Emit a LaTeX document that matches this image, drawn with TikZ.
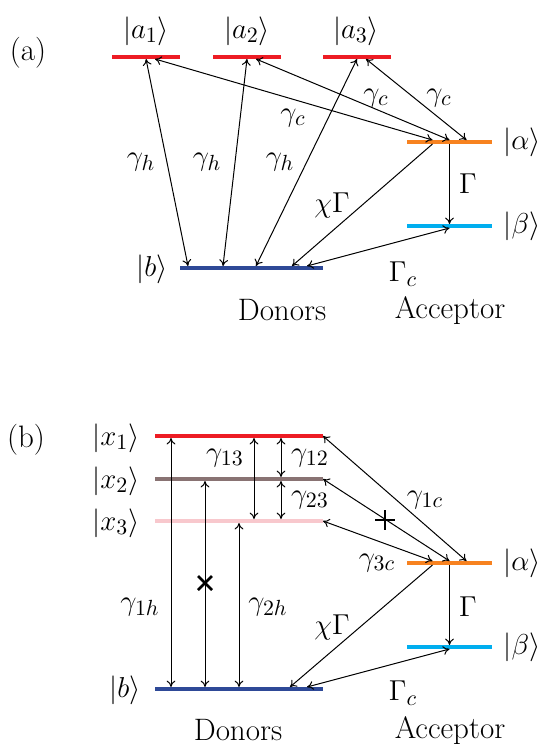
\documentclass[tikz,border=0pt]{standalone}
\usepackage{amsmath,amssymb}
\usetikzlibrary{arrows.meta,positioning,calc}
\definecolor{lvlred}{RGB}{237,28,36}
\definecolor{lvlbrown}{RGB}{137,115,115}
\definecolor{lvlpink}{RGB}{248,200,205}
\definecolor{lvlorange}{RGB}{247,130,32}
\definecolor{lvlcyan}{RGB}{0,174,239}
\definecolor{lvlblue}{RGB}{46,73,151}
\tikzset{
    lvlbar/.style={fill=#1, minimum height=2pt, inner sep=0pt, outer sep=0pt},
    trans/.style={line width=0.5pt, {To[length=3.2pt,width=4.4pt]}-{To[length=3.2pt,width=4.4pt]}},
    decay/.style={line width=0.5pt, -{To[length=3.2pt,width=4.4pt]}},
    lbl/.style={font=\fontsize{15.5}{18}\selectfont, inner sep=1pt},
    crossmark/.style={line width=1.3pt}
}

\begin{document}
\begin{tikzpicture}[x=0.5pt, y=-0.5pt]
    \useasboundingbox (0,0) rectangle (541,744);

    % ---------- (a) ----------
    \node[lbl] (taga) at (28,53) {(a)};
    \node[lvlbar=lvlred, minimum width=34pt] (a1) at (146,57) {};
    \node[lvlbar=lvlred, minimum width=34pt] (a2) at (247,57) {};
    \node[lvlbar=lvlred, minimum width=34pt] (a3) at (357,57) {};
    \node[lvlbar=lvlorange, minimum width=42.5pt] (alphaa) at (449.5,142) {};
    \node[lvlbar=lvlcyan, minimum width=42.5pt] (betaa) at (449.5,226) {};
    \node[lvlbar=lvlblue, minimum width=71.5pt] (ba) at (251.5,268) {};

    \node[lbl] (la1) at (146,31) {$|a_1\rangle$};
    \node[lbl] (la2) at (247,31) {$|a_2\rangle$};
    \node[lbl] (la3) at (356,31) {$|a_3\rangle$};
    \node[lbl] (lalphaa) at (522,142) {$|\alpha\rangle$};
    \node[lbl] (lbetaa) at (522,226) {$|\beta\rangle$};
    \node[lbl] (lba) at (152,269) {$|b\rangle$};
    \node[lbl, anchor=base] (donorsa) at (282,320) {Donors};
    \node[lbl, anchor=base] (acceptora) at (450,318) {Acceptor};

    \draw[trans] (a1.south) -- ($(ba.north)+(-63.5,0)$);
    \draw[trans] (a2.south) -- ($(ba.north)+(-28.5,0)$);
    \draw[trans] (a3.south) -- ($(ba.north)+(4.5,0)$);
    \draw[trans] ($(a1.south)+(9,0)$) -- ($(alphaa.north)+(-17,0)$);
    \draw[trans] ($(a2.south)+(9,0)$) -- (alphaa.north);
    \draw[trans] ($(a3.south)+(9,0)$) -- ($(alphaa.north)+(17,0)$);
    \draw[decay] ($(alphaa.south)+(-17,0)$) -- ($(ba.north)+(40.5,0)$);
    \draw[decay] (alphaa.south) -- (betaa.north);
    \draw[trans] (betaa.south) -- ($(ba.north)+(55.5,0)$);

    \node[lbl] at (141,162) {$\gamma_h$};
    \node[lbl] at (207,162) {$\gamma_h$};
    \node[lbl] at (280,162) {$\gamma_h$};
    \node[lbl] at (293,118) {$\gamma_c$};
    \node[lbl] at (376,98) {$\gamma_c$};
    \node[lbl] at (439,98) {$\gamma_c$};
    \node[lbl] at (332,205) {$\chi\Gamma$};
    \node[lbl] at (468,184) {$\Gamma$};
    \node[lbl] at (403,274) {$\Gamma_c$};

    % ---------- (b) ----------
    \node[lbl] (tagb) at (26,440) {(b)};
    \node[lvlbar=lvlred, minimum width=84pt] (x1) at (239,436) {};
    \node[lvlbar=lvlbrown, minimum width=84pt] (x2) at (239,479) {};
    \node[lvlbar=lvlpink, minimum width=84pt] (x3) at (239,521) {};
    \node[lvlbar=lvlblue, minimum width=84pt] (bb) at (239,689) {};
    \node[lvlbar=lvlorange, minimum width=42.5pt] (alphab) at (449.5,563) {};
    \node[lvlbar=lvlcyan, minimum width=42.5pt] (betab) at (449.5,647) {};

    \node[lbl] (lx1) at (116,438) {$|x_1\rangle$};
    \node[lbl] (lx2) at (116,481) {$|x_2\rangle$};
    \node[lbl] (lx3) at (116,523) {$|x_3\rangle$};
    \node[lbl] (lbb) at (125,690) {$|b\rangle$};
    \node[lbl] (lalphab) at (522,563) {$|\alpha\rangle$};
    \node[lbl] (lbetab) at (522,647) {$|\beta\rangle$};
    \node[lbl, anchor=base] (donorsb) at (238,740) {Donors};
    \node[lbl, anchor=base] (acceptorb) at (450,738) {Acceptor};

    \draw[trans] ($(x1.south)+(-68,0)$) -- ($(bb.north)+(-68,0)$);
    \draw[trans] ($(x2.south)+(-34,0)$) -- ($(bb.north)+(-34,0)$);
    \draw[trans] (x3.south) -- (bb.north);
    \draw[trans] ($(x1.south)+(15,0)$) -- ($(x3.north)+(15,0)$);
    \draw[trans] ($(x1.south)+(42,0)$) -- ($(x2.north)+(42,0)$);
    \draw[trans] ($(x2.south)+(42,0)$) -- ($(x3.north)+(42,0)$);
    \draw[trans] (x1.east) -- ($(alphab.north)+(17,0)$);
    \draw[trans] (x2.east) -- (alphab.north);
    \draw[trans] (x3.east) -- ($(alphab.north)+(-17,0)$);
    \draw[decay] ($(alphab.south)+(-17,0)$) -- ($(bb.north)+(51,0)$);
    \draw[decay] (alphab.south) -- (betab.north);
    \draw[trans] (betab.south) -- ($(bb.north)+(68,0)$);

    % blocked channels
    \coordinate (xcut) at (205,583);
    \coordinate (pcut) at (385,520);
    \draw[crossmark] ($(xcut)+(-7,-7)$) -- ($(xcut)+(7,7)$);
    \draw[crossmark] ($(xcut)+(-7,7)$) -- ($(xcut)+(7,-7)$);
    \draw[crossmark] ($(pcut)+(-10,0)$) -- ($(pcut)+(10,0)$);
    \draw[crossmark] ($(pcut)+(0,-10)$) -- ($(pcut)+(0,10)$);

    \node[lbl] at (225,458) {$\gamma_{13}$};
    \node[lbl] at (310,458) {$\gamma_{12}$};
    \node[lbl] at (310,500) {$\gamma_{23}$};
    \node[lbl] at (425,500) {$\gamma_{1c}$};
    \node[lbl] at (377,563) {$\gamma_{3c}$};
    \node[lbl] at (140,607) {$\gamma_{1h}$};
    \node[lbl] at (268,607) {$\gamma_{2h}$};
    \node[lbl] at (332,627) {$\chi\Gamma$};
    \node[lbl] at (468,607) {$\Gamma$};
    \node[lbl] at (403,693) {$\Gamma_c$};
\end{tikzpicture}
\end{document}
